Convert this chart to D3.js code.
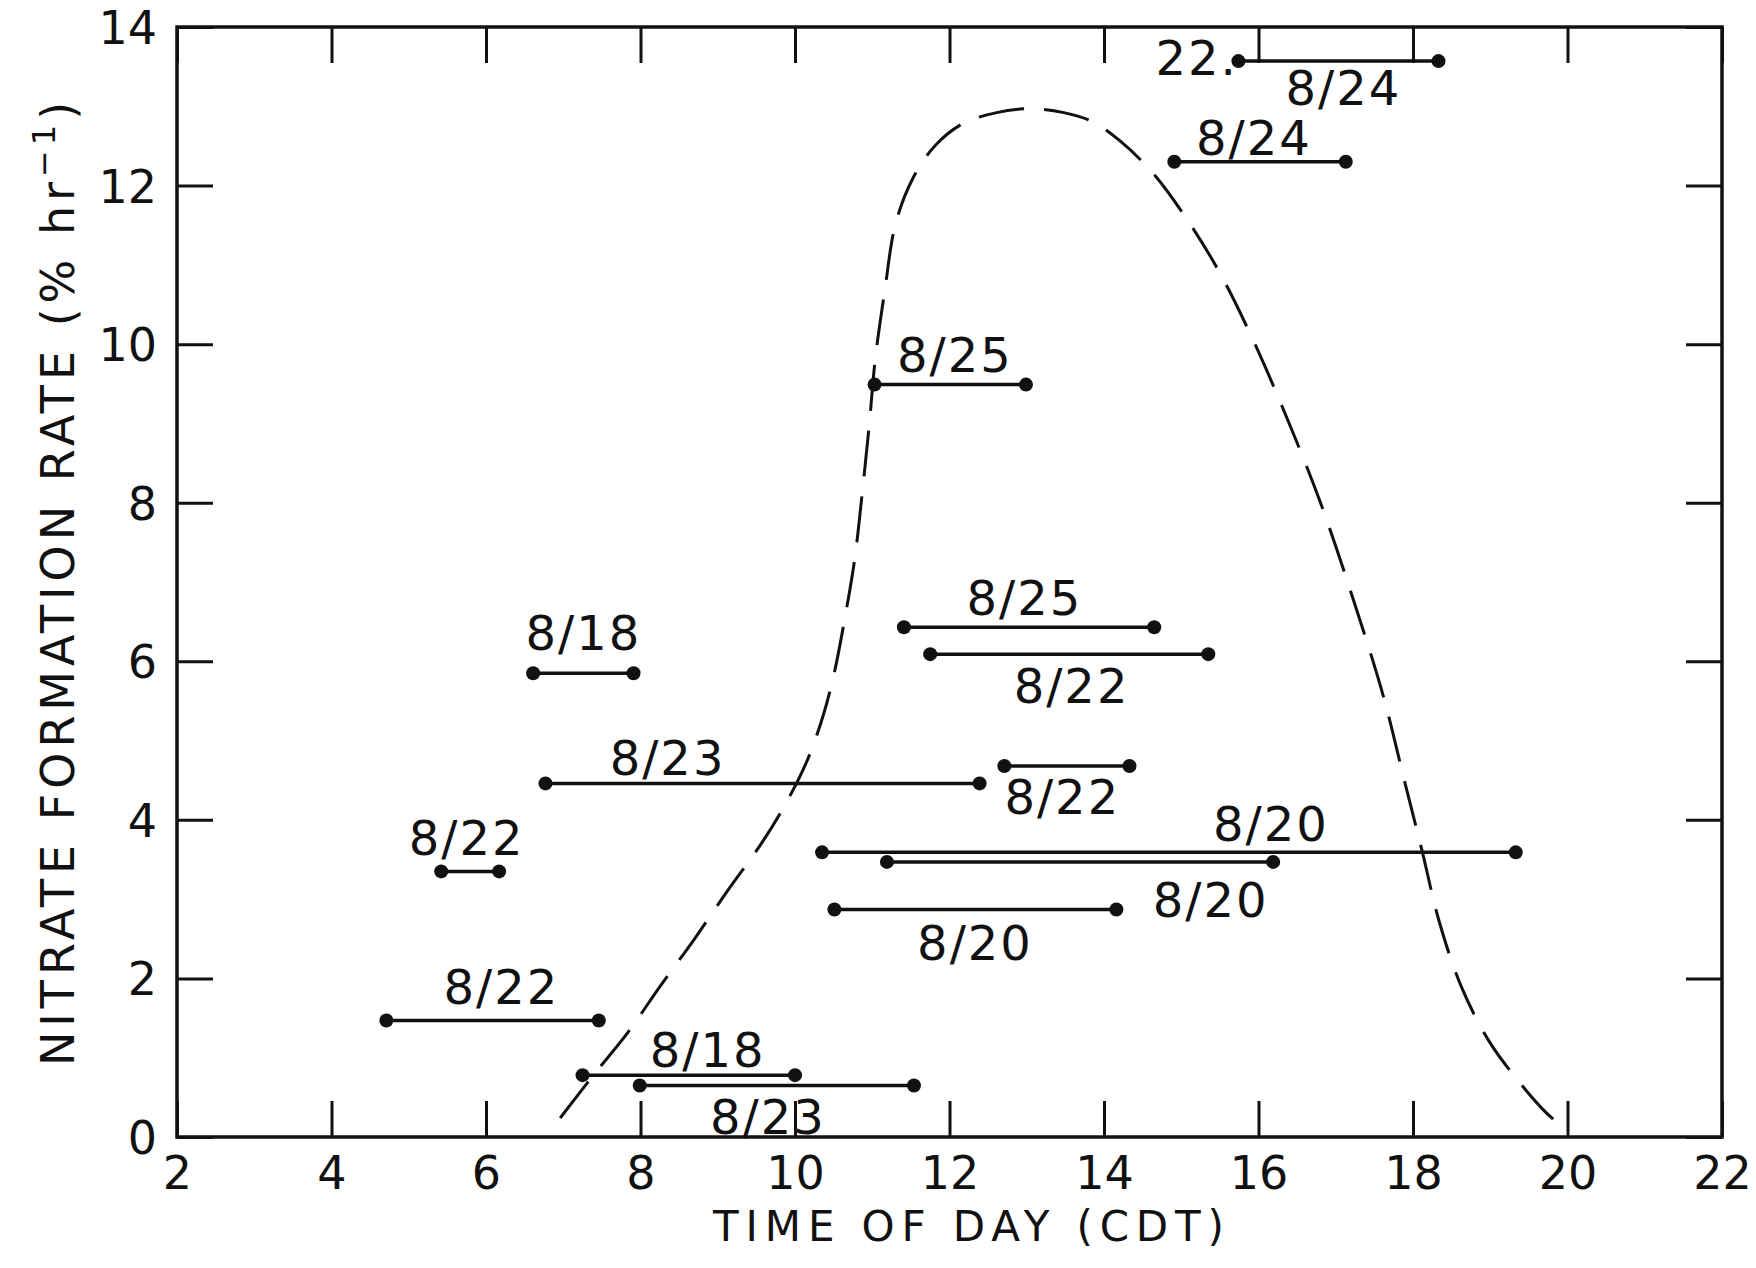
<!DOCTYPE html>
<html>
<head>
<meta charset="utf-8">
<script src="https://cdn.jsdelivr.net/npm/d3@7/dist/d3.min.js"></script>
<style>
  html, body { margin: 0; padding: 0; background: #fff; }
  svg { display: block; }
  text { font-family: "DejaVu Sans", sans-serif; fill: #111; }
</style>
</head>
<body>
<svg id="chart" width="1756" height="1268"></svg>
<script>
// ---- data ----
const xTicks = [2, 4, 6, 8, 10, 12, 14, 16, 18, 20, 22];
const yTicks = [0, 2, 4, 6, 8, 10, 12, 14];

// measurement intervals: date, start hour, end hour, rate (% / hr)
const dates  = ["8/24", "8/24", "8/25", "8/25", "8/22", "8/18", "8/23", "8/22", "8/22", "8/20", "8/20", "8/20", "8/22", "8/18", "8/23"];
const starts = [15.74, 14.91, 11.03, 11.41, 11.75, 6.61, 6.77, 12.71, 5.42, 10.35, 11.19, 10.51, 4.71, 7.25, 7.99];
const ends   = [18.33, 17.13, 12.99, 14.65, 15.35, 7.91, 12.39, 14.33, 6.17, 19.33, 16.19, 14.16, 7.46, 10.00, 11.54];
const rates  = [13.57, 12.30, 9.49, 6.43, 6.09, 5.85, 4.46, 4.68, 3.35, 3.59, 3.47, 2.87, 1.47, 0.78, 0.65];

// annotation text anchors (data units: hour, rate)
const labelText = ["8/24", "22.", "8/24", "8/25", "8/25", "8/22", "8/18", "8/23", "8/22", "8/20", "8/22", "8/20", "8/20", "8/22", "8/18", "8/23"];
const labelX    = [17.10, 15.20, 15.94, 12.07, 12.97, 13.58, 7.26, 8.35, 13.46, 16.16, 5.75, 15.38, 12.33, 6.20, 8.87, 9.65];
const labelY    = [13.01, 13.40, 12.39, 9.65, 6.58, 5.47, 6.14, 4.56, 4.08, 3.73, 3.56, 2.78, 2.23, 1.68, 0.88, 0.04];

// dashed envelope curve
const curveX = [6.96, 7.39, 7.83, 8.26, 8.70, 9.13, 9.57, 9.86, 10.15, 10.36, 10.51, 10.65, 10.77, 10.87, 10.96, 11.04, 11.16, 11.30, 11.52, 11.81, 12.17, 12.61, 13.04, 13.48, 13.84, 14.20, 14.64, 15.07, 15.51, 15.94, 16.38, 16.81, 17.25, 17.61, 17.90, 18.12, 18.33, 18.62, 18.99, 19.42, 19.71, 20.00];
const curveY = [0.24, 0.78, 1.31, 1.91, 2.50, 3.11, 3.71, 4.17, 4.73, 5.30, 5.86, 6.57, 7.27, 8.12, 8.97, 9.82, 10.66, 11.51, 12.08, 12.50, 12.78, 12.92, 12.97, 12.92, 12.81, 12.57, 12.15, 11.58, 10.88, 10.03, 9.04, 7.98, 6.71, 5.58, 4.45, 3.60, 2.75, 1.91, 1.20, 0.64, 0.32, 0.07];

// ---- layout ----
const svg = d3.select("#chart");
const L = 177, R = 1722, T = 27, B = 1137;
const x = d3.scaleLinear().domain([2, 22]).range([L, R]);
const y = d3.scaleLinear().domain([0, 14]).range([B, T]);
const tickLen = 36;
const tickFont = 46;

// axes
const gB = svg.append("g").attr("transform", `translate(0,${B})`)
  .call(d3.axisBottom(x).tickValues(xTicks).tickSize(-tickLen).tickPadding(19).tickFormat(d3.format("d")));
const gT = svg.append("g").attr("transform", `translate(0,${T})`)
  .call(d3.axisTop(x).tickValues(xTicks).tickSize(-tickLen).tickFormat(""));
const gL = svg.append("g").attr("transform", `translate(${L},0)`)
  .call(d3.axisLeft(y).tickValues(yTicks).tickSize(-tickLen).tickPadding(20).tickFormat(d3.format("d")));
const gR = svg.append("g").attr("transform", `translate(${R},0)`)
  .call(d3.axisRight(y).tickValues(yTicks).tickSize(-tickLen).tickFormat(""));

[gB, gT, gL, gR].forEach(g => {
  g.select(".domain").remove();
  g.selectAll(".tick line").attr("stroke", "#111").attr("stroke-width", 3);
  g.selectAll(".tick text")
    .attr("font-family", "DejaVu Sans, sans-serif")
    .attr("font-size", tickFont)
    .attr("fill", "#111");
});
gB.selectAll(".tick text").attr("dy", "0.72em");
gL.selectAll(".tick text").attr("dy", "0.36em");

// frame
svg.append("rect")
  .attr("x", L).attr("y", T).attr("width", R - L).attr("height", B - T)
  .attr("fill", "none").attr("stroke", "#111").attr("stroke-width", 3.5);

// axis titles
svg.append("text")
  .attr("x", (713 + 1224) / 2).attr("y", 1241)
  .attr("text-anchor", "middle")
  .attr("font-size", 42)
  .attr("textLength", 511).attr("lengthAdjust", "spacing")
  .text("TIME OF DAY  (CDT)");

const yt = svg.append("text")
  .attr("transform", `translate(74,${(99 + 1064) / 2}) rotate(-90)`)
  .attr("text-anchor", "middle")
  .attr("font-size", 46)
  .attr("letter-spacing", 5);
yt.append("tspan").text("NITRATE FORMATION RATE (% hr");
yt.append("tspan").attr("font-size", 32).attr("dy", -19).text("−1");
yt.append("tspan").attr("dy", 19).text(")");

// dashed curve
const curvePts = curveX.map((cx, i) => [cx, curveY[i]]);
svg.append("path")
  .datum(curvePts)
  .attr("d", d3.line().x(d => x(d[0])).y(d => y(d[1])).curve(d3.curveCatmullRom.alpha(0.5)))
  .attr("fill", "none").attr("stroke", "#111").attr("stroke-width", 3)
  .attr("stroke-dasharray", "46 20");

// intervals
const segs = dates.map((d, i) => ({ date: d, s: starts[i], e: ends[i], r: rates[i] }));
const gs = svg.append("g");
gs.selectAll("line.seg").data(segs).enter().append("line")
  .attr("class", "seg")
  .attr("x1", d => x(d.s)).attr("x2", d => x(d.e))
  .attr("y1", d => y(d.r)).attr("y2", d => y(d.r))
  .attr("stroke", "#111").attr("stroke-width", 3.5);
const ends2 = segs.flatMap(d => [[d.s, d.r], [d.e, d.r]]);
gs.selectAll("circle").data(ends2).enter().append("circle")
  .attr("cx", d => x(d[0])).attr("cy", d => y(d[1])).attr("r", 7)
  .attr("fill", "#111");

// labels
svg.append("g").selectAll("text").data(labelText.map((t, i) => ({ t, lx: labelX[i], ly: labelY[i] })))
  .enter().append("text")
  .attr("x", d => x(d.lx)).attr("y", d => y(d.ly))
  .attr("text-anchor", "middle")
  .attr("font-size", 48)
  .attr("letter-spacing", 2)
  .text(d => d.t);
</script>
</body>
</html>
